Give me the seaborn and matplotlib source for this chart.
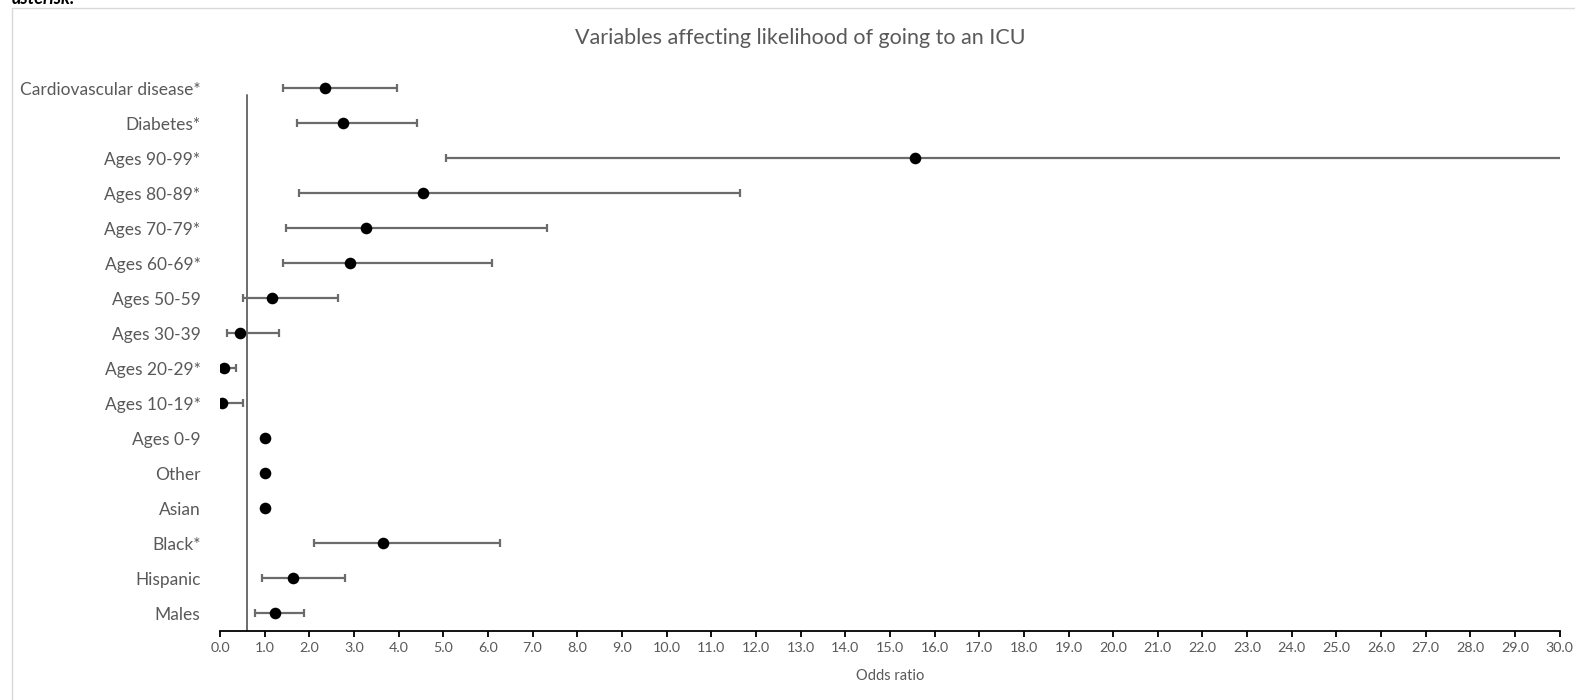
"""
Forest plot: odds ratios (with 95% CI) for ICU admission.
"""

import numpy as np
import pandas as pd
import matplotlib
matplotlib.use("Agg")
import matplotlib.pyplot as plt
import seaborn as sns

# ── Data (top row first) ──────────────────────────────────────────────────────
variables = [
    "Cardiovascular disease*", "Diabetes*", "Ages 90-99*", "Ages 80-89*",
    "Ages 70-79*", "Ages 60-69*", "Ages 50-59", "Ages 30-39", "Ages 20-29*",
    "Ages 10-19*", "Ages 0-9", "Other", "Asian", "Black*", "Hispanic", "Males",
]
odds_ratio = [2.35, 2.76, 15.56, 4.54, 3.27, 2.91, 1.17, 0.44, 0.09,
              0.05, 1.0, 1.0, 1.0, 3.64, 1.64, 1.22]
ci_lower   = [1.40, 1.73, 5.05, 1.76, 1.47, 1.40, 0.52, 0.15, 0.04,
              0.01, np.nan, np.nan, np.nan, 2.11, 0.94, 0.78]
ci_upper   = [3.97, 4.40, 48.0, 11.64, 7.32, 6.10, 2.65, 1.31, 0.36,
              0.52, np.nan, np.nan, np.nan, 6.26, 2.79, 1.88]

ref_line_x = 0.6
x_ticks = np.arange(0, 31, 1)

GREY = "#595959"
FONT = ["Lato", "DejaVu Sans"]

df = pd.DataFrame({"variable": variables, "or": odds_ratio,
                   "lo": ci_lower, "hi": ci_upper})
df["y"] = len(df) - np.arange(len(df))

# ── Plot ──────────────────────────────────────────────────────────────────────
sns.set_theme(style="white")
plt.rcParams["font.family"] = FONT

fig = plt.figure(figsize=(15.75, 7), dpi=100)
ax = fig.add_axes([0.1397, 0.0986, 0.8506, 0.8007])

ci = df.dropna(subset=["lo", "hi"])
ax.errorbar(ci["or"], ci["y"],
            xerr=[ci["or"] - ci["lo"], ci["hi"] - ci["or"]],
            fmt="none", ecolor="#6b6b6b", elinewidth=1.6, capsize=3.2,
            capthick=1.6, zorder=2)

sns.scatterplot(data=df, x="or", y="y", color="black", s=70,
                edgecolor="black", linewidth=0, ax=ax, zorder=3, legend=False)

ax.plot([ref_line_x, ref_line_x], [0.5, 15.8], color="#6b6b6b", lw=1.4, zorder=1)

ax.set_xlim(0, 30)
ax.set_ylim(0.5, 16.5)
ax.set_xticks(x_ticks)
ax.set_xticklabels([f"{v:.1f}" for v in x_ticks], color=GREY, fontsize=10.3)
ax.set_yticks(df["y"])
ax.set_yticklabels(df["variable"], color=GREY, fontsize=12.5)
ax.tick_params(axis="y", length=0, pad=14)
ax.tick_params(axis="x", direction="out", length=4, width=1.3, color="black",
               pad=4, bottom=True)

for side in ["top", "right", "left"]:
    ax.spines[side].set_visible(False)
ax.spines["bottom"].set_color("black")
ax.spines["bottom"].set_linewidth(1.3)

ax.set_xlabel("Odds ratio", color=GREY, fontsize=10.5, labelpad=11)
ax.set_ylabel("")
fig.text(0.508, 0.945, "Variables affecting likelihood of going to an ICU",
         ha="center", va="center", color=GREY, fontsize=15.5)

# chart frame and clipped caption line above it
fig.add_artist(plt.Line2D([12 / 1575, 12 / 1575], [0, 692 / 700],
                          transform=fig.transFigure, color="#d9d9d9", lw=1))
fig.add_artist(plt.Line2D([12 / 1575, 1], [692 / 700, 692 / 700],
                          transform=fig.transFigure, color="#d9d9d9", lw=1))
fig.text(12 / 1575, 696 / 700, "asterisk.", ha="left", va="baseline",
         fontsize=13, fontweight="bold", fontstyle="italic", color="black")

fig.savefig("out.png", dpi=100)
plt.close(fig)
